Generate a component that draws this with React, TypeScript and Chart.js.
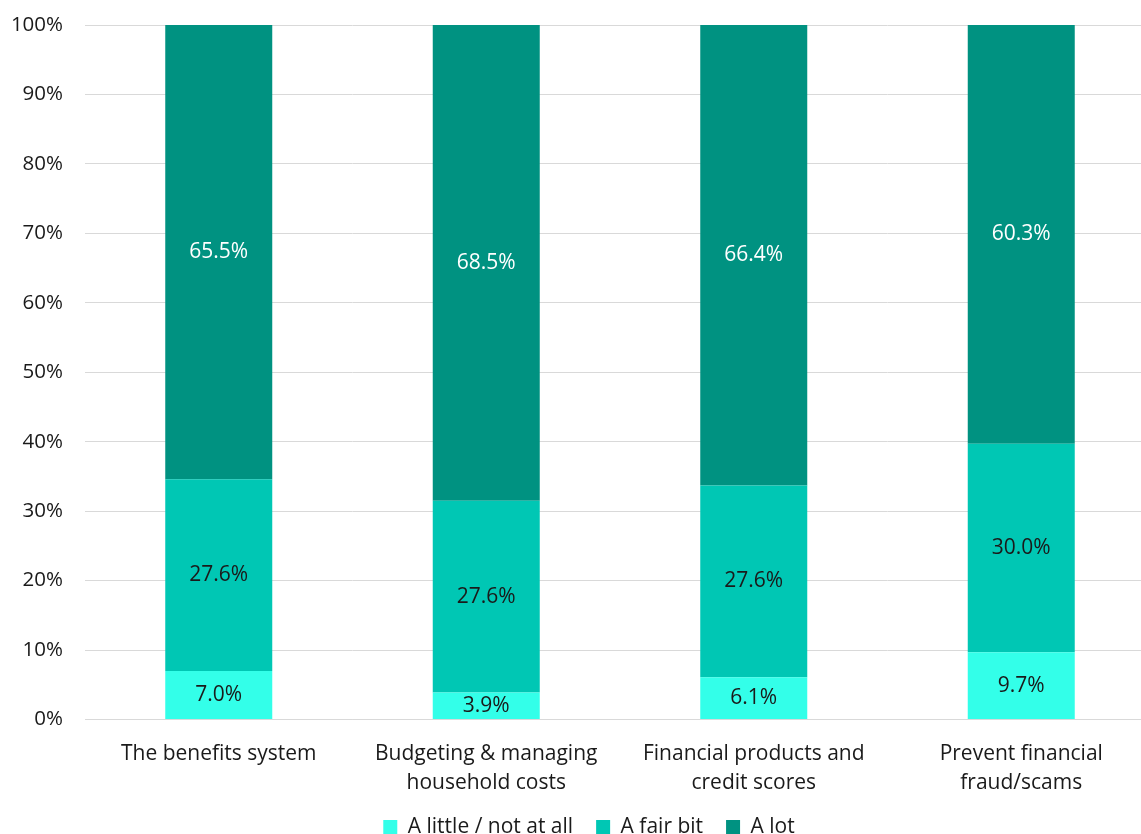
import React, { useEffect, useRef } from "react";
import { Chart, registerables } from "chart.js";

Chart.register(...registerables);

const categories: string[][] = [
  ["The benefits system"],
  ["Budgeting & managing", "household costs"],
  ["Financial products and", "credit scores"],
  ["Prevent financial", "fraud/scams"],
];
const seriesNames = ["A little / not at all", "A fair bit", "A lot"];
const littleValues = [7.0, 3.9, 6.1, 9.7];
const fairBitValues = [27.6, 27.6, 27.6, 30.0];
const aLotValues = [65.5, 68.5, 66.4, 60.3];
const yTicks = [0, 10, 20, 30, 40, 50, 60, 70, 80, 90, 100];

const colors = ["#33FFE9", "#00C7B4", "#009281"];
const labelColors = ["#1a1a1a", "#1a1a1a", "#ffffff"];
const fontFamily = "'Open Sans', sans-serif";

const dataLabelPlugin = {
  id: "segLabels",
  afterDatasetsDraw(chart: any) {
    const ctx = chart.ctx;
    ctx.save();
    ctx.font = "21px 'Open Sans', sans-serif";
    ctx.textAlign = "center";
    ctx.textBaseline = "middle";
    chart.data.datasets.forEach((ds: any, di: number) => {
      const meta = chart.getDatasetMeta(di);
      meta.data.forEach((bar: any, i: number) => {
        const v = ds.data[i];
        const cy = (bar.y + bar.base) / 2;
        ctx.fillStyle = labelColors[di];
        ctx.fillText(v.toFixed(1) + "%", bar.x, cy);
      });
    });
    ctx.restore();
  },
};

const legendShiftPlugin = {
  id: "legendShift",
  afterLayout(chart: any) {
    const l = chart.legend;
    if (l) {
      l.left += 11.5;
      l.right += 11.5;
    }
  },
};

export default function App() {
  const ref = useRef<HTMLCanvasElement | null>(null);
  useEffect(() => {
    if (!ref.current) return;
    const chart = new Chart(ref.current, {
      type: "bar",
      data: {
        labels: categories,
        datasets: [littleValues, fairBitValues, aLotValues].map((d, i) => ({
          label: seriesNames[i],
          data: d,
          backgroundColor: colors[i],
          borderWidth: 0,
          categoryPercentage: 1,
          barPercentage: 0.4,
        })),
      },
      options: {
        animation: false,
        responsive: false,
        maintainAspectRatio: false,
        layout: { padding: { top: 25, left: 0, right: 0, bottom: -13.5 } },
        plugins: {
          legend: {
            position: "bottom",
            labels: {
              boxWidth: 14,
              boxHeight: 14,
              padding: 23,
              color: "#1a1a1a",
              font: { family: fontFamily, size: 21 },
            },
          },
          tooltip: { enabled: false },
        },
        scales: {
          x: {
            stacked: true,
            grid: { display: false, drawTicks: false },
            border: { display: true, color: "#d9d9d9" },
            ticks: {
              color: "#1a1a1a",
              font: { family: fontFamily, size: 21, lineHeight: 1.38 },
              padding: 20,
              maxRotation: 0,
              autoSkip: false,
            },
            afterFit: (s: any) => {
              s.height = 74;
              s.paddingLeft = 0;
              s.paddingRight = 0;
            },
          },
          y: {
            stacked: true,
            min: 0,
            max: 100,
            grid: { color: "#d9d9d9", drawTicks: false },
            border: { display: false },
            afterBuildTicks: (s: any) => {
              s.ticks = yTicks.map((v) => ({ value: v }));
            },
            ticks: {
              color: "#1a1a1a",
              font: { family: fontFamily, size: 20.5 },
              padding: 22,
              callback: (v: any) => v + "%",
            },
            afterFit: (s: any) => {
              s.width = 85;
              s.paddingTop = 0;
              s.paddingBottom = 0;
            },
          },
        },
      },
      plugins: [dataLabelPlugin, legendShiftPlugin],
    });
    return () => chart.destroy();
  }, []);
  return (
    <div
      style={{
        position: "fixed",
        left: 0,
        top: 0,
        width: 1141,
        height: 834,
        overflow: "hidden",
        background: "#fff",
      }}
    >
      <canvas ref={ref} width={1155} height={834} style={{ display: "block" }} />
    </div>
  );
}
